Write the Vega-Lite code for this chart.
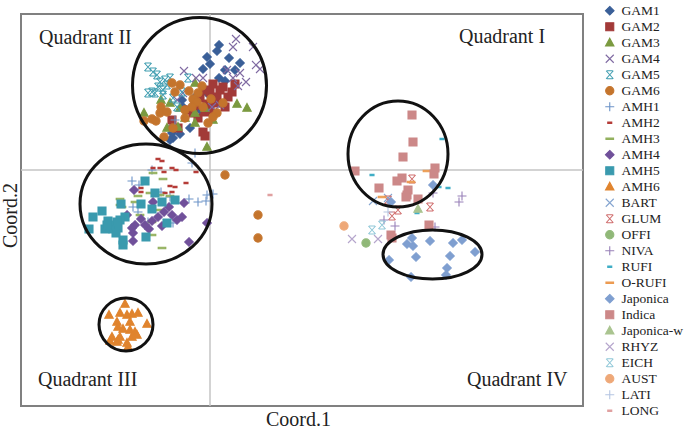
{"$schema":"https://vega.github.io/schema/vega-lite/v6.json","width":562,"height":392,"autosize":"none","padding":{"left":21,"top":14,"right":102,"bottom":23},"background":"white","config":{"view":{"stroke":"#808080","strokeWidth":2},"font":"Liberation Serif"},"encoding":{"x":{"field":"x","type":"quantitative","scale":{"domain":[-1.89,3.73],"nice":false,"zero":false},"axis":{"title":"Coord.1","grid":false,"ticks":false,"labels":false,"domain":false,"titleFont":"Liberation Serif","titleFontSize":20,"titleFontWeight":"normal","titleColor":"#222222","titleX":277,"titleY":19,"titleAlign":"center","titleBaseline":"alphabetic"}},"y":{"field":"y","type":"quantitative","scale":{"domain":[-2.36,1.56],"nice":false,"zero":false},"axis":{"title":"Coord.2","grid":false,"ticks":false,"labels":false,"domain":false,"titleFont":"Liberation Serif","titleFontSize":20,"titleFontWeight":"normal","titleColor":"#222222","titleX":-5,"titleY":201,"titleAlign":"center","titleBaseline":"alphabetic"}}},"layer":[{"data":{"values":[{"x":0,"y":-2.36,"y2":1.56}]},"mark":{"type":"rule","color":"#c4c4c4","strokeWidth":1.5},"encoding":{"y2":{"field":"y2"}}},{"data":{"values":[{"x":-1.89,"x2":3.73,"y":0}]},"mark":{"type":"rule","color":"#c4c4c4","strokeWidth":1.5},"encoding":{"x2":{"field":"x2"}}},{"data":{"values":[
{"s":"GAM1","x":0.09,"y":1.25},{"s":"GAM1","x":0.07,"y":1.19},{"s":"GAM1","x":-0.03,"y":1.13},{"s":"GAM1","x":0,"y":1.06},{"s":"GAM1","x":-0.07,"y":1.01},{"s":"GAM1","x":0.19,"y":1.12},{"s":"GAM1","x":0.30,"y":1.07},{"s":"GAM1","x":0.25,"y":1.00},{"s":"GAM1","x":0.15,"y":1.00},{"s":"GAM1","x":0.09,"y":0.92},{"s":"GAM1","x":0.15,"y":0.89},{"s":"GAM1","x":-0.20,"y":0.42},{"s":"GAM1","x":-0.30,"y":0.36},{"s":"GAM1","x":-0.38,"y":0.43},{"s":"GAM1","x":-0.37,"y":0.32},{"s":"GAM1","x":-0.40,"y":0.30},{"s":"GAM1","x":-0.28,"y":0.70},{"s":"GAM1","x":-0.27,"y":0.63},{"s":"GAM1","x":0.10,"y":0.67},{"s":"GAM1","x":-0.10,"y":0.60},{"s":"GAM1","x":-0.38,"y":0.37},{"s":"GAM1","x":-0.15,"y":0.73},{"s":"GAM1","x":-0.02,"y":0.76},
{"s":"GAM2","x":0.03,"y":0.86},{"s":"GAM2","x":0.25,"y":0.86},{"s":"GAM2","x":0.13,"y":0.83},{"s":"GAM2","x":0,"y":0.78},{"s":"GAM2","x":0.18,"y":0.73},{"s":"GAM2","x":-0.05,"y":0.80},{"s":"GAM2","x":0.07,"y":0.73},{"s":"GAM2","x":-0.17,"y":0.57},{"s":"GAM2","x":0,"y":0.60},{"s":"GAM2","x":0.15,"y":0.63},{"s":"GAM2","x":-0.07,"y":0.38},{"s":"GAM2","x":-0.05,"y":0.34},{"s":"GAM2","x":-0.22,"y":0.60},{"s":"GAM2","x":-0.12,"y":0.52},{"s":"GAM2","x":-0.38,"y":0.50},{"s":"GAM2","x":0.05,"y":0.67},{"s":"GAM2","x":-0.10,"y":0.72},{"s":"GAM2","x":0.10,"y":0.80},{"s":"GAM2","x":-0.03,"y":0.66},{"s":"GAM2","x":0.22,"y":0.78},{"s":"GAM2","x":-0.15,"y":0.65},{"s":"GAM2","x":-0.05,"y":0.58},{"s":"GAM2","x":-0.32,"y":0.42},
{"s":"GAM3","x":-0.66,"y":0.57},{"s":"GAM3","x":-0.49,"y":0.70},{"s":"GAM3","x":-0.40,"y":0.67},{"s":"GAM3","x":-0.15,"y":0.87},{"s":"GAM3","x":0.27,"y":0.66},{"s":"GAM3","x":0.37,"y":0.62},{"s":"GAM3","x":-0.03,"y":0.23},{"s":"GAM3","x":-0.43,"y":0.42},{"s":"GAM3","x":-0.32,"y":0.43},{"s":"GAM3","x":-0.30,"y":0.62},{"s":"GAM3","x":-0.15,"y":0.47},{"s":"GAM3","x":-0.25,"y":0.52},{"s":"GAM3","x":-0.15,"y":0.57},{"s":"GAM3","x":-0.05,"y":0.62},{"s":"GAM3","x":0.03,"y":0.50},
{"s":"GAM4","x":0.26,"y":1.31},{"s":"GAM4","x":0.23,"y":1.23},{"s":"GAM4","x":0.43,"y":1.23},{"s":"GAM4","x":0.46,"y":1.05},{"s":"GAM4","x":0.50,"y":1.01},{"s":"GAM4","x":0.36,"y":0.88},{"s":"GAM4","x":0.30,"y":0.97},{"s":"GAM4","x":-0.26,"y":0.99},{"s":"GAM4","x":-0.14,"y":0.92},{"s":"GAM4","x":-0.07,"y":0.92},{"s":"GAM4","x":0.17,"y":1.00},{"s":"GAM4","x":0.28,"y":0.84},{"s":"GAM4","x":0.10,"y":0.65},{"s":"GAM4","x":0.02,"y":0.63},{"s":"GAM4","x":-0.33,"y":0.70},{"s":"GAM4","x":-0.27,"y":0.77},{"s":"GAM4","x":0.23,"y":0.92},
{"s":"GAM5","x":-0.62,"y":1.03},{"s":"GAM5","x":-0.57,"y":0.98},{"s":"GAM5","x":-0.53,"y":0.95},{"s":"GAM5","x":-0.40,"y":0.92},{"s":"GAM5","x":-0.45,"y":0.90},{"s":"GAM5","x":-0.52,"y":0.83},{"s":"GAM5","x":-0.47,"y":0.80},{"s":"GAM5","x":-0.58,"y":0.78},{"s":"GAM5","x":-0.55,"y":0.77},{"s":"GAM5","x":-0.62,"y":0.77},{"s":"GAM5","x":-0.43,"y":0.85},{"s":"GAM5","x":-0.50,"y":0.88},{"s":"GAM5","x":-0.22,"y":0.92},{"s":"GAM5","x":-0.28,"y":0.78},{"s":"GAM5","x":-0.37,"y":0.72},{"s":"GAM5","x":-0.33,"y":0.63},{"s":"GAM5","x":-0.47,"y":0.75},
{"s":"GAM6","x":-0.38,"y":0.87},{"s":"GAM6","x":-0.30,"y":0.85},{"s":"GAM6","x":-0.35,"y":0.78},{"s":"GAM6","x":-0.21,"y":0.79},{"s":"GAM6","x":-0.08,"y":0.84},{"s":"GAM6","x":-0.12,"y":0.77},{"s":"GAM6","x":-0.17,"y":0.71},{"s":"GAM6","x":-0.49,"y":0.63},{"s":"GAM6","x":-0.50,"y":0.57},{"s":"GAM6","x":-0.43,"y":0.58},{"s":"GAM6","x":-0.66,"y":0.49},{"s":"GAM6","x":-0.58,"y":0.51},{"s":"GAM6","x":-0.54,"y":0.49},{"s":"GAM6","x":-0.46,"y":0.33},{"s":"GAM6","x":-0.37,"y":0.42},{"s":"GAM6","x":-0.25,"y":0.52},{"s":"GAM6","x":-0.25,"y":0.60},{"s":"GAM6","x":-0.13,"y":0.68},{"s":"GAM6","x":-0.18,"y":0.63},{"s":"GAM6","x":0.01,"y":0.71},{"s":"GAM6","x":0.13,"y":0.67},{"s":"GAM6","x":0.07,"y":0.57},{"s":"GAM6","x":0.03,"y":0.53},{"s":"GAM6","x":-0.02,"y":0.47},{"s":"GAM6","x":-0.07,"y":0.63},{"s":"GAM6","x":0.15,"y":-0.05},{"s":"GAM6","x":0.48,"y":-0.45},{"s":"GAM6","x":0.48,"y":-0.68},
{"s":"AMH1","x":-0.15,"y":0.17},{"s":"AMH1","x":-0.18,"y":0.07},{"s":"AMH1","x":-0.58,"y":0},{"s":"AMH1","x":-0.78,"y":-0.11},{"s":"AMH1","x":-0.71,"y":-0.15},{"s":"AMH1","x":-0.21,"y":-0.29},{"s":"AMH1","x":-0.12,"y":-0.32},{"s":"AMH1","x":-0.04,"y":-0.31},{"s":"AMH1","x":-0.03,"y":-0.25},{"s":"AMH1","x":0.03,"y":-0.24},{"s":"AMH1","x":-0.77,"y":-0.37},{"s":"AMH1","x":-0.72,"y":-0.42},{"s":"AMH1","x":-0.49,"y":-0.22},{"s":"AMH1","x":-0.40,"y":-0.27},{"s":"AMH1","x":-0.62,"y":-0.52},{"s":"AMH1","x":-0.37,"y":-0.53},{"s":"AMH1","x":-0.35,"y":0.50},
{"s":"AMH2","x":-0.52,"y":0.11},{"s":"AMH2","x":-0.48,"y":0.09},{"s":"AMH2","x":-0.57,"y":0.02},{"s":"AMH2","x":-0.50,"y":0.02},{"s":"AMH2","x":-0.46,"y":-0.02},{"s":"AMH2","x":-0.38,"y":0.02},{"s":"AMH2","x":-0.34,"y":0},{"s":"AMH2","x":-0.14,"y":-0.02},{"s":"AMH2","x":-0.24,"y":-0.13},{"s":"AMH2","x":-0.40,"y":-0.16},{"s":"AMH2","x":-0.35,"y":-0.17},{"s":"AMH2","x":-0.69,"y":-0.18},{"s":"AMH2","x":-0.69,"y":-0.22},{"s":"AMH2","x":-0.45,"y":-0.23},{"s":"AMH2","x":-0.38,"y":-0.22},
{"s":"AMH3","x":-0.57,"y":-0.03},{"s":"AMH3","x":-0.47,"y":-0.09},{"s":"AMH3","x":-0.90,"y":-0.29},{"s":"AMH3","x":-0.60,"y":-0.23},{"s":"AMH3","x":-0.72,"y":-0.26},{"s":"AMH3","x":-0.50,"y":-0.25},{"s":"AMH3","x":-0.40,"y":-0.26},{"s":"AMH3","x":-0.90,"y":-0.35},{"s":"AMH3","x":-0.75,"y":-0.32},{"s":"AMH3","x":-0.70,"y":-0.45},{"s":"AMH3","x":-0.50,"y":-0.40},{"s":"AMH3","x":-0.58,"y":-0.52},{"s":"AMH3","x":-0.48,"y":-0.78},{"s":"AMH3","x":-0.58,"y":-0.65},{"s":"AMH3","x":-0.88,"y":-0.37},
{"s":"AMH4","x":-0.76,"y":-0.20},{"s":"AMH4","x":-0.57,"y":-0.32},{"s":"AMH4","x":-0.26,"y":-0.33},{"s":"AMH4","x":-0.41,"y":-0.37},{"s":"AMH4","x":-0.46,"y":-0.42},{"s":"AMH4","x":-0.38,"y":-0.45},{"s":"AMH4","x":-0.33,"y":-0.50},{"s":"AMH4","x":-0.28,"y":-0.47},{"s":"AMH4","x":-0.52,"y":-0.47},{"s":"AMH4","x":-0.48,"y":-0.56},{"s":"AMH4","x":-0.61,"y":-0.59},{"s":"AMH4","x":-0.58,"y":-0.51},{"s":"AMH4","x":-0.69,"y":-0.49},{"s":"AMH4","x":-0.75,"y":-0.55},{"s":"AMH4","x":-0.78,"y":-0.58},{"s":"AMH4","x":-0.77,"y":-0.63},{"s":"AMH4","x":-0.77,"y":-0.71},{"s":"AMH4","x":-0.21,"y":-0.72},{"s":"AMH4","x":-0.03,"y":-0.53},{"s":"AMH4","x":-0.83,"y":-0.45},{"s":"AMH4","x":-0.65,"y":-0.55},
{"s":"AMH5","x":-0.65,"y":-0.11},{"s":"AMH5","x":-0.55,"y":-0.23},{"s":"AMH5","x":-0.35,"y":-0.30},{"s":"AMH5","x":-0.48,"y":-0.32},{"s":"AMH5","x":-0.69,"y":-0.34},{"s":"AMH5","x":-0.89,"y":-0.34},{"s":"AMH5","x":-1.08,"y":-0.41},{"s":"AMH5","x":-1.17,"y":-0.47},{"s":"AMH5","x":-1.21,"y":-0.59},{"s":"AMH5","x":-0.58,"y":-0.39},{"s":"AMH5","x":-0.85,"y":-0.47},{"s":"AMH5","x":-0.90,"y":-0.50},{"s":"AMH5","x":-0.43,"y":-0.53},{"s":"AMH5","x":-1.02,"y":-0.51},{"s":"AMH5","x":-0.95,"y":-0.55},{"s":"AMH5","x":-1.05,"y":-0.59},{"s":"AMH5","x":-0.97,"y":-0.59},{"s":"AMH5","x":-0.92,"y":-0.58},{"s":"AMH5","x":-0.87,"y":-0.70},{"s":"AMH5","x":-0.87,"y":-0.75},{"s":"AMH5","x":-0.64,"y":-0.67},{"s":"AMH5","x":-1.0,"y":-0.56},{"s":"AMH5","x":-0.93,"y":-0.52},{"s":"AMH5","x":-1.03,"y":-0.55},{"s":"AMH5","x":-0.94,"y":-0.63},
{"s":"AMH6","x":-0.85,"y":-1.34},{"s":"AMH6","x":-1.01,"y":-1.45},{"s":"AMH6","x":-0.90,"y":-1.43},{"s":"AMH6","x":-0.83,"y":-1.45},{"s":"AMH6","x":-0.78,"y":-1.44},{"s":"AMH6","x":-0.72,"y":-1.43},{"s":"AMH6","x":-0.63,"y":-1.54},{"s":"AMH6","x":-0.93,"y":-1.52},{"s":"AMH6","x":-0.92,"y":-1.57},{"s":"AMH6","x":-0.80,"y":-1.52},{"s":"AMH6","x":-0.75,"y":-1.62},{"s":"AMH6","x":-0.87,"y":-1.59},{"s":"AMH6","x":-0.98,"y":-1.67},{"s":"AMH6","x":-0.90,"y":-1.67},{"s":"AMH6","x":-0.80,"y":-1.60},{"s":"AMH6","x":-1.00,"y":-1.71},{"s":"AMH6","x":-0.92,"y":-1.70},{"s":"AMH6","x":-0.78,"y":-1.67},{"s":"AMH6","x":-0.82,"y":-1.77},{"s":"AMH6","x":-0.73,"y":-1.65},{"s":"AMH6","x":-0.93,"y":-1.72},{"s":"AMH6","x":-0.83,"y":-1.73},
{"s":"BART","x":1.63,"y":-0.31},{"s":"BART","x":1.78,"y":-0.28},
{"s":"GLUM","x":2.02,"y":-0.09},{"s":"GLUM","x":2.20,"y":-0.37},{"s":"GLUM","x":1.88,"y":-0.40},{"s":"GLUM","x":1.82,"y":-0.46},{"s":"GLUM","x":1.78,"y":-0.30},
{"s":"OFFI","x":1.56,"y":-0.73},
{"s":"NIVA","x":2.52,"y":-0.26},{"s":"NIVA","x":2.49,"y":-0.32},{"s":"NIVA","x":2.23,"y":-0.23},{"s":"NIVA","x":1.74,"y":-0.50},{"s":"NIVA","x":1.85,"y":-0.56},{"s":"NIVA","x":2.25,"y":-0.57},
{"s":"RUFI","x":2.32,"y":0.31},{"s":"RUFI","x":1.62,"y":-0.05},{"s":"RUFI","x":2.29,"y":-0.17},{"s":"RUFI","x":2.38,"y":-0.18},{"s":"RUFI","x":2.07,"y":-0.43},
{"s":"O-RUFI","x":2.17,"y":-0.01},{"s":"O-RUFI","x":2.01,"y":-0.12},{"s":"O-RUFI","x":1.72,"y":-0.27},
{"s":"Japonica","x":2.23,"y":-0.15},{"s":"Japonica","x":1.81,"y":-0.32},{"s":"Japonica","x":2.02,"y":-0.68},{"s":"Japonica","x":1.97,"y":-0.74},{"s":"Japonica","x":2.03,"y":-0.76},{"s":"Japonica","x":2.20,"y":-0.71},{"s":"Japonica","x":2.43,"y":-0.73},{"s":"Japonica","x":2.52,"y":-0.70},{"s":"Japonica","x":2.65,"y":-0.82},{"s":"Japonica","x":2.06,"y":-0.87},{"s":"Japonica","x":2.40,"y":-0.86},{"s":"Japonica","x":1.79,"y":-0.90},{"s":"Japonica","x":2.37,"y":-0.98},{"s":"Japonica","x":2.36,"y":-1.05},{"s":"Japonica","x":2.01,"y":-1.07},
{"s":"Indica","x":2.02,"y":0.55},{"s":"Indica","x":2.03,"y":0.28},{"s":"Indica","x":1.93,"y":0.13},{"s":"Indica","x":1.45,"y":-0.01},{"s":"Indica","x":2.25,"y":0.02},{"s":"Indica","x":2.24,"y":-0.04},{"s":"Indica","x":1.92,"y":-0.08},{"s":"Indica","x":1.87,"y":-0.11},{"s":"Indica","x":1.69,"y":-0.18},{"s":"Indica","x":1.98,"y":-0.20},{"s":"Indica","x":1.97,"y":-0.25},{"s":"Indica","x":1.96,"y":-0.27},{"s":"Indica","x":2.08,"y":-0.29},{"s":"Indica","x":2.19,"y":-0.55},{"s":"Indica","x":1.81,"y":-0.65},{"s":"Indica","x":1.82,"y":-0.68},
{"s":"Japonica-w","x":2.08,"y":-0.39},
{"s":"RHYZ","x":1.42,"y":-0.69},{"s":"RHYZ","x":1.68,"y":-0.69},
{"s":"EICH","x":1.62,"y":-0.60},{"s":"EICH","x":1.72,"y":-0.55},
{"s":"AUST","x":1.34,"y":-0.56},
{"s":"LATI","x":1.78,"y":-0.42},
{"s":"LONG","x":0.60,"y":-0.25}
]},"mark":{"type":"point","filled":true,"opacity":1,"size":4,"strokeWidth":1.1},"encoding":{"fill":{"field":"s","type":"nominal","scale":{"domain":["GAM1","GAM2","GAM3","GAM4","GAM5","GAM6","AMH1","AMH2","AMH3","AMH4","AMH5","AMH6","BART","GLUM","OFFI","NIVA","RUFI","O-RUFI","Japonica","Indica","Japonica-w","RHYZ","EICH","AUST","LATI","LONG"],"range":["#3a5f98","#a23a38","#7b9a40","#7f6aa2","#3f9db0","#c4742c","#6c93c8","#b53c38","#92b05c","#70509a","#3a9aae","#e0842e","#85a5d0","#cf6c6c","#90b878","#9880b8","#40aec6","#ec9a50","#7f9fd0","#cc8888","#aac490","#b5a5cc","#90c8d8","#eea878","#b5c5e2","#e0a0a0"]},"legend":{"title":null,"orient":"none","legendX":577,"legendY":-10,"symbolSize":4,"symbolStrokeWidth":1.1,"symbolOpacity":1,"labelFont":"Liberation Serif","labelFontSize":13.5,"labelColor":"#222222","labelOffset":5,"rowPadding":1,"symbolOffset":5,"padding":0,"symbolLimit":30}},"stroke":{"field":"s","type":"nominal","scale":{"domain":["GAM1","GAM2","GAM3","GAM4","GAM5","GAM6","AMH1","AMH2","AMH3","AMH4","AMH5","AMH6","BART","GLUM","OFFI","NIVA","RUFI","O-RUFI","Japonica","Indica","Japonica-w","RHYZ","EICH","AUST","LATI","LONG"],"range":["#3a5f98","#a23a38","#7b9a40","#7f6aa2","#3f9db0","#c4742c","#6c93c8","#b53c38","#92b05c","#70509a","#3a9aae","#e0842e","#85a5d0","#cf6c6c","#90b878","#9880b8","#40aec6","#ec9a50","#7f9fd0","#cc8888","#aac490","#b5a5cc","#90c8d8","#eea878","#b5c5e2","#e0a0a0"]},"legend":{"title":null,"orient":"none","legendX":577,"legendY":-10,"symbolSize":4,"symbolStrokeWidth":1.1,"symbolOpacity":1,"labelFont":"Liberation Serif","labelFontSize":13.5,"labelColor":"#222222","labelOffset":5,"rowPadding":1,"symbolOffset":5,"padding":0,"symbolLimit":30}},"shape":{"field":"s","type":"nominal","scale":{"domain":["GAM1","GAM2","GAM3","GAM4","GAM5","GAM6","AMH1","AMH2","AMH3","AMH4","AMH5","AMH6","BART","GLUM","OFFI","NIVA","RUFI","O-RUFI","Japonica","Indica","Japonica-w","RHYZ","EICH","AUST","LATI","LONG"],"range":["M0,-4.3L4.3,0L0,4.3L-4.3,0Z","M-4,-4L4,-4L4,4L-4,4Z","M0,-4.5L4.2,3.3L-4.2,3.3Z","M-4,-4L4,4M-4,4L4,-4","M-3.6,-4L3.6,4M-3.6,4L3.6,-4M-3,-4L3,-4M-3,4L3,4","M-4.1,0A4.1,4.1 0 1,1 4.1,0A4.1,4.1 0 1,1 -4.1,0Z","M-4.5,0L4.5,0M0,-4.5L0,4.5","M-2,-0.6L2,-0.6L2,0.6L-2,0.6Z","M-3.8,-0.7L3.8,-0.7L3.8,0.7L-3.8,0.7Z","M0,-4.3L4.3,0L0,4.3L-4.3,0Z","M-4,-4L4,-4L4,4L-4,4Z","M0,-4.5L4.2,3.3L-4.2,3.3Z","M-4,-4L4,4M-4,4L4,-4","M-3.6,-4L3.6,4M-3.6,4L3.6,-4M-3,-4L3,-4M-3,4L3,4","M-4.1,0A4.1,4.1 0 1,1 4.1,0A4.1,4.1 0 1,1 -4.1,0Z","M-4.5,0L4.5,0M0,-4.5L0,4.5","M-2,-0.6L2,-0.6L2,0.6L-2,0.6Z","M-3.8,-0.7L3.8,-0.7L3.8,0.7L-3.8,0.7Z","M0,-4.3L4.3,0L0,4.3L-4.3,0Z","M-4,-4L4,-4L4,4L-4,4Z","M0,-4.5L4.2,3.3L-4.2,3.3Z","M-4,-4L4,4M-4,4L4,-4","M-3.6,-4L3.6,4M-3.6,4L3.6,-4M-3,-4L3,-4M-3,4L3,4","M-4.1,0A4.1,4.1 0 1,1 4.1,0A4.1,4.1 0 1,1 -4.1,0Z","M-4.5,0L4.5,0M0,-4.5L0,4.5","M-2,-0.6L2,-0.6L2,0.6L-2,0.6Z"]},"legend":{"title":null,"orient":"none","legendX":577,"legendY":-10,"symbolSize":4,"symbolStrokeWidth":1.1,"symbolOpacity":1,"labelFont":"Liberation Serif","labelFontSize":13.5,"labelColor":"#222222","labelOffset":5,"rowPadding":1,"symbolOffset":5,"padding":0,"symbolLimit":30}}}},{"data":{"values":[{"label":"Quadrant II","x":-1.71,"y":1.32},{"label":"Quadrant I","x":2.49,"y":1.33},{"label":"Quadrant III","x":-1.72,"y":-2.1},{"label":"Quadrant IV","x":2.57,"y":-2.1}]},"mark":{"type":"text","align":"left","baseline":"middle","font":"Liberation Serif","fontSize":20,"color":"#222222"},"encoding":{"text":{"field":"label"}}},{"data":{"values":[{"x":-0.105,"y":0.845}]},"mark":{"type":"point","shape":"M-67,0A67,68 0 1,1 67,0A67,68 0 1,1 -67,0Z","size":4,"filled":false,"opacity":1,"stroke":"#111111","strokeWidth":3}},{"data":{"values":[{"x":-0.64,"y":-0.34}]},"mark":{"type":"point","shape":"M-66,0A66,60 0 1,1 66,0A66,60 0 1,1 -66,0Z","size":4,"filled":false,"opacity":1,"stroke":"#111111","strokeWidth":3}},{"data":{"values":[{"x":1.88,"y":0.16}]},"mark":{"type":"point","shape":"M-50,0A50,53 0 1,1 50,0A50,53 0 1,1 -50,0Z","size":4,"filled":false,"opacity":1,"stroke":"#111111","strokeWidth":3}},{"data":{"values":[{"x":2.225,"y":-0.845}]},"mark":{"type":"point","shape":"M-49.5,0A49.5,24.5 0 1,1 49.5,0A49.5,24.5 0 1,1 -49.5,0Z","size":4,"filled":false,"opacity":1,"stroke":"#111111","strokeWidth":3}},{"data":{"values":[{"x":-0.84,"y":-1.545}]},"mark":{"type":"point","shape":"M-27,0A27,26.5 0 1,1 27,0A27,26.5 0 1,1 -27,0Z","size":4,"filled":false,"opacity":1,"stroke":"#111111","strokeWidth":3}}]}
